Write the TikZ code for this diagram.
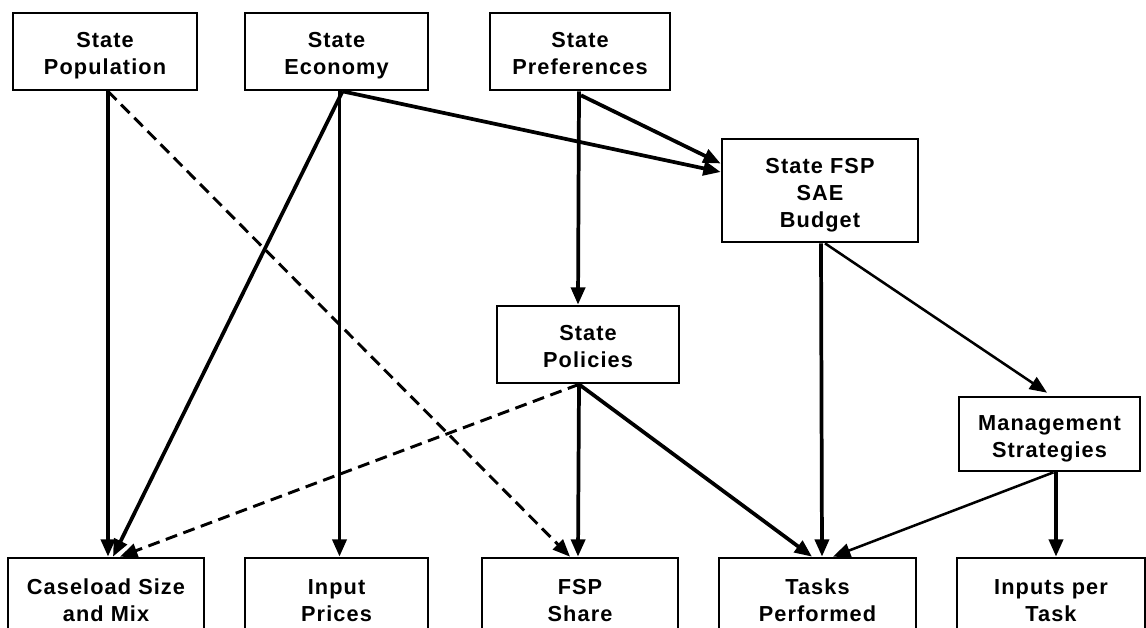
\documentclass[tikz,border=0pt]{standalone}
\usepackage{fontspec}
\setmainfont{Liberation Sans}
\newfontfamily\boxfont[LetterSpace=5]{Liberation Sans}
\usetikzlibrary{arrows.meta,calc}
\newcommand\bxt[1]{\raisebox{-3.2pt}[\height][\depth]{\begin{tabular}{@{}c@{}}#1\end{tabular}}}
\begin{document}
\begin{tikzpicture}[x=0.75pt,y=-0.75pt,
  box/.style={draw,line width=2pt,rectangle,inner sep=0pt,
    font=\boxfont\bfseries\fontsize{16.3}{20.25}\selectfont},
  thk/.style={line width=2.8pt,-{Triangle[length=13pt,width=10.5pt]}},
  thn/.style={line width=1.9pt,-{Triangle[length=13pt,width=10.5pt]}},
  dsh/.style={line width=2.2pt,dash pattern=on 9pt off 5pt,-{Triangle[length=13pt,width=10.5pt]}}]
\useasboundingbox (0,0) rectangle (1146,628);
\clip (0,0) rectangle (1146,628);
% top row
\node[box,minimum width=184*0.75pt,minimum height=77*0.75pt] (pop) at (105,51.5) {\bxt{State\\Population}};
\node[box,minimum width=183*0.75pt,minimum height=77*0.75pt] (econ) at (336.5,51.5) {\bxt{State\\Economy}};
\node[box,minimum width=180*0.75pt,minimum height=77*0.75pt] (pref) at (580,51.5) {\bxt{State\\Preferences}};
% middle
\node[box,minimum width=196*0.75pt,minimum height=103*0.75pt] (bud) at (820,190.5) {\bxt{State FSP\\SAE\\Budget}};
\node[box,minimum width=182*0.75pt,minimum height=77*0.75pt] (pol) at (588,344.5) {\bxt{State\\Policies}};
\node[box,minimum width=181*0.75pt,minimum height=74*0.75pt] (mgmt) at (1049.5,434) {\bxt{Management\\Strategies}};
% bottom row
\node[box,minimum width=196*0.75pt,minimum height=80*0.75pt] (case) at (106,598) {\bxt{Caseload Size\\and Mix}};
\node[box,minimum width=183*0.75pt,minimum height=80*0.75pt] (inp) at (336.5,598) {\bxt{Input\\Prices}};
\node[box,minimum width=196*0.75pt,minimum height=80*0.75pt] (share) at (580,598) {\bxt{FSP\\Share}};
\node[box,minimum width=197*0.75pt,minimum height=80*0.75pt] (tasks) at (817.5,598) {\bxt{Tasks\\Performed}};
\node[box,minimum width=188*0.75pt,minimum height=80*0.75pt] (ipt) at (1051,598) {\bxt{Inputs per\\Task}};
% connectors
\draw[thk] ($(pop.south)+(3,0)$) -- ($(case.north)+(2,0)$);
\draw[dsh] ($(pop.south)+(3,0)$) -- ($(share.north)+(-10,0)$);
\draw[thk] ($(econ.south)+(6,0)$) -- ($(case.north)+(7,0)$);
\draw[thk] ($(econ.south)+(3,0)$) -- ($(inp.north)+(3,0)$);
\draw[thk] ($(econ.south)+(6,0)$) -- ($(bud.west)+(0,-18.5)$);
\draw[thk] ($(pref.south)+(1,4)$) -- ($(bud.west)+(0,-27)$);
\draw[thk] ($(pref.south)+(-1,0)$) -- ($(pol.north)+(-10,0)$);
\draw[thk] ($(bud.south)+(1,0)$) -- ($(tasks.north)+(4.5,0)$);
\draw[thn] ($(bud.south)+(5,0)$) -- ($(mgmt.north)+(-2.5,-3)$);
\draw[dsh] ($(pol.south)+(-9,0)$) -- ($(case.north)+(14,0)$);
\draw[thk] ($(pol.south)+(-9,0)$) -- ($(share.north)+(-2,0)$);
\draw[thk] ($(pol.south)+(-9,0)$) -- ($(tasks.north)+(-5.5,0)$);
\draw[thn] ($(mgmt.south)+(4,0)$) -- ($(tasks.north)+(15.5,0)$);
\draw[thk] ($(mgmt.south)+(6.5,0)$) -- ($(ipt.north)+(5,0)$);
\end{tikzpicture}
\end{document}
